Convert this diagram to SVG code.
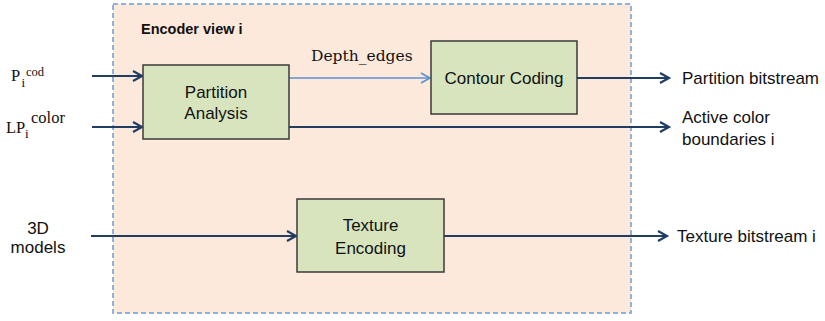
<svg xmlns="http://www.w3.org/2000/svg" width="825" height="321" viewBox="0 0 825 321">
<defs>
<style>
.sans{font-family:"Liberation Sans",Arial,sans-serif;font-size:17px;fill:#111}
.title{font-family:"Liberation Sans",Arial,sans-serif;font-size:14.5px;font-weight:bold;fill:#111}
.serif{font-family:"DejaVu Serif","Liberation Serif",serif;fill:#111}
.lserif{font-family:"Liberation Serif","Times New Roman",serif;fill:#111}
.box{fill:#d7e4bd;stroke:#3a3a3a;stroke-width:1.5}
.conn{fill:none;stroke:#203d63;stroke-width:2.2}
.conn-light{fill:none;stroke:#5b8fd2;stroke-width:1.6}
</style>
<marker id="arr" markerUnits="userSpaceOnUse" markerWidth="14" markerHeight="14" refX="11" refY="7" orient="auto">
<path d="M2,2 L11,7 L2,12" fill="none" stroke="#203d63" stroke-width="2.2"/>
</marker>
<marker id="arr-light" markerUnits="userSpaceOnUse" markerWidth="14" markerHeight="14" refX="11" refY="7" orient="auto">
<path d="M2,2 L11,7 L2,12" fill="none" stroke="#5b8fd2" stroke-width="1.6"/>
</marker>
</defs>
<rect width="825" height="321" fill="#ffffff"/>
<g id="encoder-view">
<rect x="113" y="4" width="518" height="309" fill="#fde9db" stroke="#6e9bd5" stroke-width="1.5" stroke-dasharray="5,3"/>
<text class="title" x="141" y="34">Encoder view i</text>
</g>
<g id="connectors">
<line class="conn" x1="92" y1="76" x2="142" y2="76" marker-end="url(#arr)"/>
<line class="conn" x1="92" y1="127" x2="142" y2="127" marker-end="url(#arr)"/>
<line class="conn-light" x1="289" y1="78" x2="430" y2="78" marker-end="url(#arr-light)"/>
<line class="conn" x1="577" y1="78" x2="669" y2="78" marker-end="url(#arr)"/>
<line class="conn" x1="289" y1="127" x2="669" y2="127" marker-end="url(#arr)"/>
<line class="conn" x1="91" y1="236" x2="296" y2="236" marker-end="url(#arr)"/>
<line class="conn" x1="444" y1="236" x2="667" y2="236" marker-end="url(#arr)"/>
<text class="serif" x="311" y="61" font-size="15.5">Depth_edges</text>
</g>
<g id="input-pcod">
<text class="lserif" x="11" y="81" font-size="16.5">P</text>
<text class="lserif" x="21.5" y="87" font-size="13">i</text>
<text class="lserif" x="26" y="76" font-size="12.5">cod</text>
</g>
<g id="input-lpcolor">
<text class="lserif" x="6" y="133" font-size="16.5">LP</text>
<text class="lserif" x="25" y="138" font-size="13">i</text>
<text class="lserif" x="31" y="123" font-size="16.5">color</text>
</g>
<g id="input-3d">
<text class="sans" x="38" y="234" text-anchor="middle">3D</text>
<text class="sans" x="38" y="253" text-anchor="middle">models</text>
</g>
<g id="partition-analysis">
<rect class="box" x="143" y="65" width="146" height="74"/>
<text class="sans" x="216" y="98" text-anchor="middle">Partition</text>
<text class="sans" x="216" y="119" text-anchor="middle">Analysis</text>
</g>
<g id="contour-coding">
<rect class="box" x="431" y="41" width="146" height="73"/>
<text class="sans" x="504" y="84" text-anchor="middle">Contour Coding</text>
</g>
<g id="texture-encoding">
<rect class="box" x="297" y="199" width="147" height="73"/>
<text class="sans" x="370.5" y="231" text-anchor="middle">Texture</text>
<text class="sans" x="370.5" y="254" text-anchor="middle">Encoding</text>
</g>
<g id="out-partition">
<text class="sans" x="682" y="84">Partition bitstream</text>
</g>
<g id="out-active">
<text class="sans" x="682" y="123">Active color</text>
<text class="sans" x="682" y="145">boundaries i</text>
</g>
<g id="out-texture">
<text class="sans" x="677" y="242">Texture bitstream i</text>
</g>
</svg>
